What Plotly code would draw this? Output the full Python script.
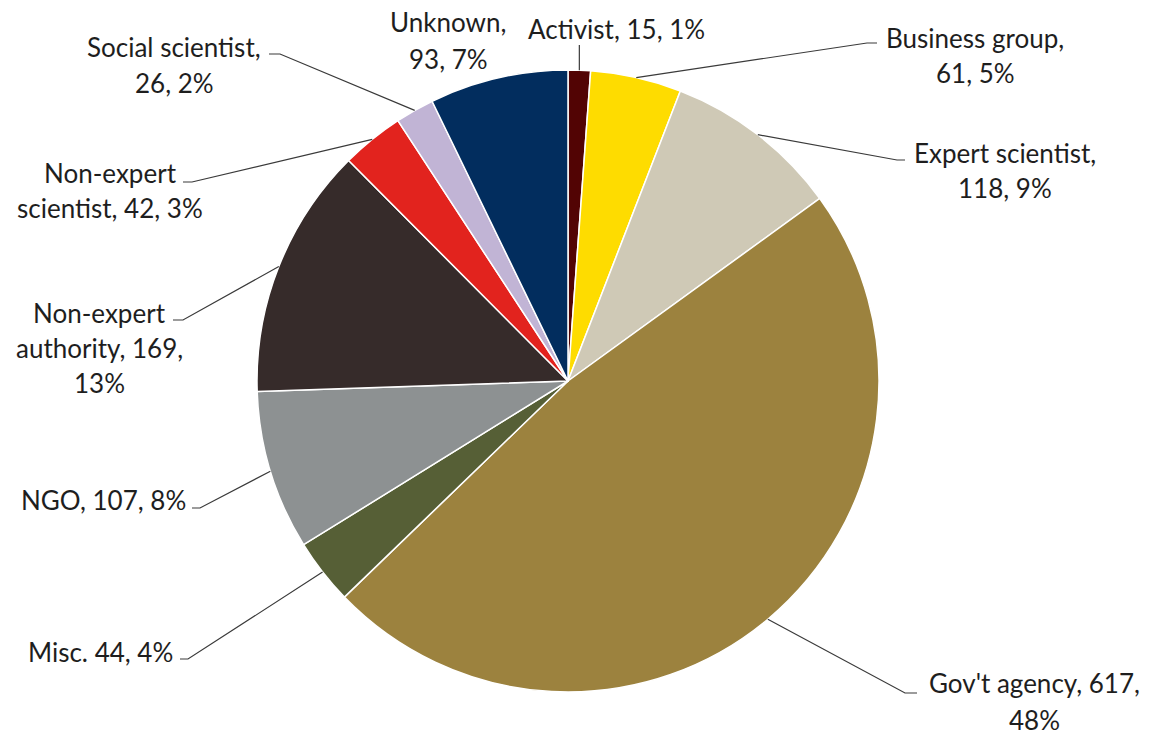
import math
import plotly.graph_objects as go

# ---- data ----
categories = ["Activist", "Business group", "Expert scientist", "Gov't agency", "Misc.",
              "NGO", "Non-expert authority", "Non-expert scientist", "Social scientist", "Unknown"]
counts = [15, 61, 118, 617, 44, 107, 169, 42, 26, 93]
label_lines = [
    ["Activist, 15, 1%"],
    ["Business group,", "61, 5%"],
    ["Expert scientist,", "118, 9%"],
    ["Gov't agency, 617,", "48%"],
    ["Misc. 44, 4%"],
    ["NGO, 107, 8%"],
    ["Non-expert", "authority, 169,", "13%"],
    ["Non-expert", "scientist, 42, 3%"],
    ["Social scientist,", "26, 2%"],
    ["Unknown,", "93, 7%"],
]

# ---- styling / layout ----
colors = ["#520404", "#fedc00", "#cfc9b6", "#9c823e", "#565f36",
          "#8d9192", "#362b2a", "#e2231e", "#c1b4d5", "#022d5e"]
W, H = 1159, 738
CX, CY, R = 568, 381, 311
# label anchor: (center x, first line center y, line spacing) in pixels
label_pos = [(616, 29, 35), (975, 38, 35), (1005, 153, 35), (1034, 683, 37), (100, 652, 35),
             (103, 500, 35), (99, 313, 35), (110, 173, 35), (174, 47, 36), (448, 22, 37)]
# leader elbows (pixels): list of points after the slice edge point
leader_pts = [
    [("edge", 45)],
    [(867, 43), (877, 43)],
    [(897, 160), (905, 160)],
    [(905, 693), (917, 693)],
    [(188, 659), (180, 659)],
    [(200, 508), (192, 508)],
    [(183, 320), (173, 320)],
    [(192, 182), (183, 182)],
    [(280, 54), (269, 54)],
    None,
]

FONT = "Lato"
FS = 26
TXT = "#1e1e1e"

def px(x):
    return x / W

def py(y):
    return 1 - y / H

fig = go.Figure(go.Pie(
    labels=categories, values=counts, sort=False, direction="clockwise", rotation=0,
    marker=dict(colors=colors, line=dict(color="white", width=1.5)),
    textinfo="none", hoverinfo="label+value+percent", showlegend=False,
    domain=dict(x=[px(CX - R), px(CX + R)], y=[py(CY + R), py(CY - R)]),
))

total = sum(counts)
shapes = []
annotations = []
cum = 0
for i, v in enumerate(counts):
    mid = 2 * math.pi * (cum + v / 2) / total
    cum += v
    ex = CX + R * math.sin(mid)
    ey = CY - R * math.cos(mid)
    pts = leader_pts[i]
    if pts:
        path = f"M {px(ex)},{py(ey)}"
        for (x, y) in pts:
            if x == "edge":
                x = ex
            path += f" L {px(x)},{py(y)}"
        shapes.append(dict(type="path", xref="paper", yref="paper", path=path,
                           line=dict(color="#3a3a3a", width=1.2)))
    lx, ly, sp = label_pos[i]
    for j, line in enumerate(label_lines[i]):
        annotations.append(dict(x=px(lx), y=py(ly + j * sp), xref="paper", yref="paper",
                                text=line, showarrow=False, xanchor="center", yanchor="middle",
                                font=dict(family=FONT, size=FS, color=TXT)))

fig.update_layout(
    width=W, height=H, margin=dict(l=0, r=0, t=0, b=0),
    paper_bgcolor="white", plot_bgcolor="white",
    shapes=shapes, annotations=annotations,
)
fig.write_html("out.html")
